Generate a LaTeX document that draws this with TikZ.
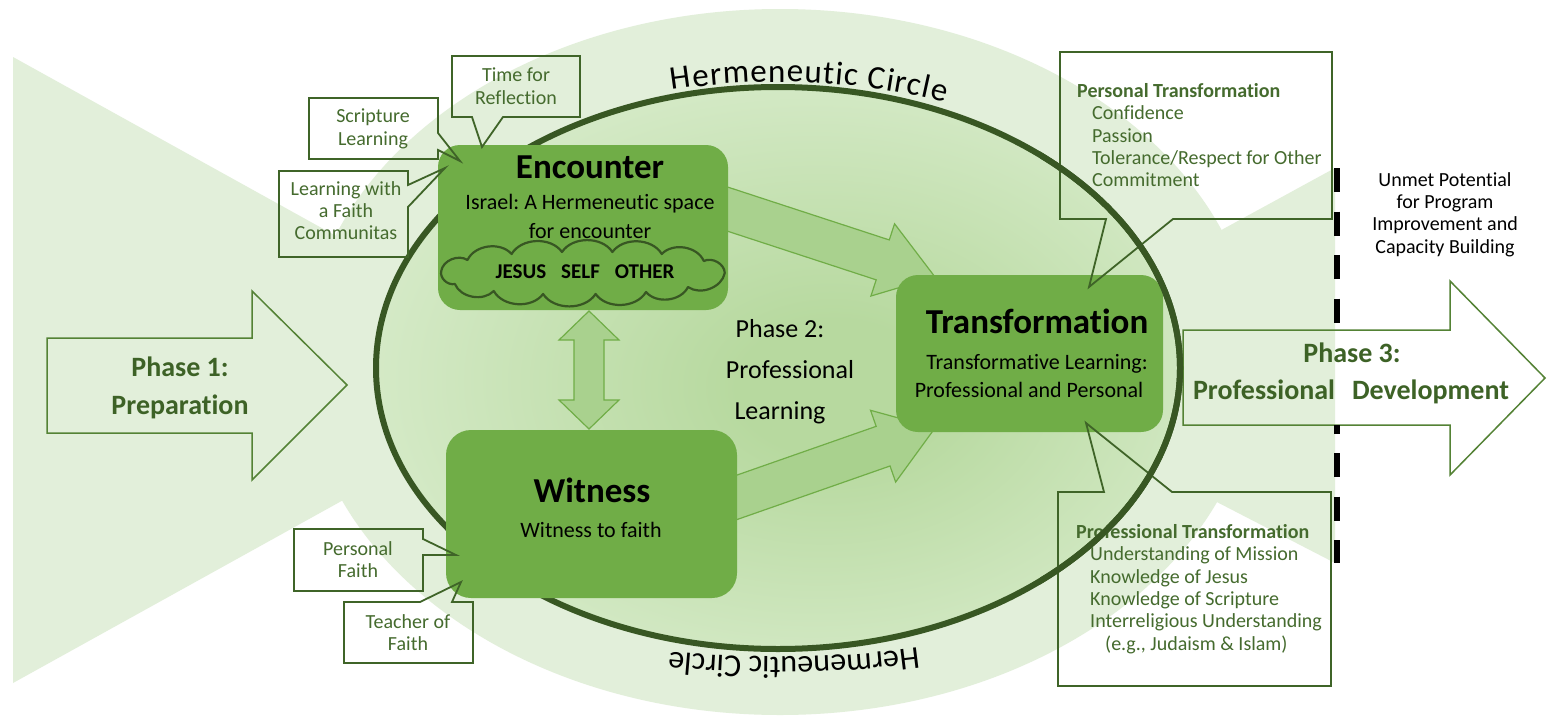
\documentclass[tikz,border=0pt]{standalone}
\usepackage{fontspec}
\setmainfont{Carlito}[Ligatures=NoCommon]
\usetikzlibrary{calc,decorations.text}
\frenchspacing

\definecolor{bglight}{HTML}{E2EFDA}
\definecolor{boxgreen}{HTML}{70AD47}
\definecolor{darkg}{HTML}{385723}
\definecolor{arrowfill}{HTML}{A9D18E}
\definecolor{calloutline}{HTML}{3F6428}
\definecolor{callouttext}{HTML}{456B2E}
\definecolor{phaseline}{HTML}{548235}
\definecolor{phasetext}{HTML}{3D6226}
\definecolor{hin}{HTML}{B7D99F}
\definecolor{hout}{HTML}{ECF7E6}

\pgfdeclareradialshading{hermshade}{\pgfpoint{4bp}{-2bp}}{color(0bp)=(hin); color(6bp)=(hin); color(44bp)=(hout); color(50bp)=(hout)}

\newcommand{\hermfont}{\fontsize{33}{33}\selectfont}
\newcommand{\hermfontb}{\fontsize{32}{32}\selectfont}

% #1 from, #2 to, #3 shaft half width, #4 head half width, #5 head length
\newcommand{\mkblockarrow}[5]{%
  \coordinate (bah) at ($(#2)!#5!(#1)$);
  \filldraw[blockarrow] ($(#1)!#3!90:(#2)$) -- ($(bah)!#3!90:(#2)$) -- ($(bah)!#4!90:(#2)$) -- (#2) -- ($(bah)!#4!-90:(#2)$) -- ($(bah)!#3!-90:(#2)$) -- ($(#1)!#3!-90:(#2)$) -- cycle;}
\newcommand{\mkdoublearrow}[5]{%
  \coordinate (dah) at ($(#2)!#5!(#1)$);
  \coordinate (dat) at ($(#1)!#5!(#2)$);
  \filldraw[blockarrow] ($(dat)!#3!90:(#2)$) -- ($(dah)!#3!90:(#2)$) -- ($(dah)!#4!90:(#2)$) -- (#2) -- ($(dah)!#4!-90:(#2)$) -- ($(dah)!#3!-90:(#2)$) -- ($(dat)!#3!-90:(#2)$) -- ($(dat)!#4!-90:(#2)$) -- (#1) -- ($(dat)!#4!90:(#2)$) -- cycle;}

\begin{document}
\begin{tikzpicture}[x=1pt,y=1pt,
  bigbox/.style={fill=boxgreen, rounded corners=22pt, inner sep=0, draw=none},
  blockarrow/.style={fill=arrowfill, draw=boxgreen, line width=1.2pt, line join=miter},
  callbox/.style={draw=calloutline, line width=1.8pt, line join=miter},
  calltext/.style={text=callouttext, font=\fontsize{20}{22.4}\selectfont, align=center, inner sep=0, anchor=north},
  listtext/.style={text=callouttext, font=\fontsize{20}{22.4}\selectfont, align=left, inner sep=0, anchor=north west},
  phasearrow/.style={draw=phaseline, line width=1.5pt, line join=miter},
  phasetxt/.style={text=phasetext, font=\bfseries\fontsize{28}{37}\selectfont, inner sep=0, anchor=base},
  ptwotxt/.style={text=black, font=\fontsize{26}{41}\selectfont, inner sep=0, anchor=base},
  titletxt/.style={text=black, font=\bfseries\fontsize{35}{40}\selectfont, inner sep=0, anchor=base},
  subtxt/.style={text=black, font=\fontsize{22}{28}\selectfont, inner sep=0, anchor=base},
  cloudtxt/.style={text=black, font=\bfseries\fontsize{21}{24}\selectfont, inner sep=0, anchor=base},
  unmettxt/.style={text=black, font=\fontsize{20}{22.4}\selectfont, align=center, inner sep=0, anchor=north},
  dashline/.style={draw=black, line width=5.5pt, dash pattern=on 24pt off 19.5pt},
  cloudline/.style={draw=darkg, line width=2.2pt, fill=boxgreen, line join=round},
  puff/.style={bend right=58}
]
\useasboundingbox (0,0) rectangle (1550,-715);
\fill[white] (0,0) rectangle (1550,-715);

% background shapes
\fill[bglight] (13,-57) -- (578,-370) -- (13,-683) -- cycle;
\fill[bglight] (963,-371) -- (1335,-168) -- (1335,-563) -- cycle;
\fill[bglight] (780,-362) ellipse [x radius=476, y radius=353];

% inner hermeneutic ellipse fill
\fill[shading=hermshade] (778,-368) ellipse [x radius=402, y radius=281];

% phase arrows
\draw[phasearrow] (47,-338) -- (252,-338) -- (252,-291) -- (347,-385) -- (252,-480) -- (252,-433) -- (47,-433) -- cycle;
\draw[phasearrow] (1183,-330) -- (1450,-330) -- (1450,-281) -- (1545,-378) -- (1450,-475) -- (1450,-425) -- (1183,-425) -- cycle;

% dashed boundary
\draw[dashline] (1337,-168) -- (1337,-325);
\draw[dashline, dash phase=15.5pt] (1337,-425) -- (1337,-563);

% ellipse outline
\draw[darkg, line width=6pt] (778,-368) ellipse [x radius=402, y radius=281];

% Hermeneutic Circle texts
\path[decorate, decoration={text along path, text align={fit to path}, text color=black, text={|\hermfont|Hermeneutic Circle}}]
  (672,-90) arc[start angle=103.6, end angle=68.2, x radius=450, y radius=286];
\path[decorate, decoration={text along path, text align={fit to path}, text color=black, text={|\hermfontb|Hermeneutic Circle}}]
  (918,-647.8) arc[start angle=284.5, end angle=259.2, x radius=560, y radius=289];

% block arrows
\coordinate (ua1) at (715,-205);
\coordinate (ua2) at (935,-277);
\coordinate (la1) at (715,-505);
\coordinate (la2) at (935,-428);
\coordinate (va1) at (589,-311);
\coordinate (va2) at (589,-429);
\mkblockarrow{ua1}{ua2}{21pt}{38pt}{55pt}
\mkblockarrow{la1}{la2}{21pt}{38pt}{55pt}
\mkdoublearrow{va1}{va2}{15pt}{30pt}{29pt}

% main boxes
\node[bigbox, minimum width=290pt, minimum height=165pt] (enc) at (583,-227.5) {};
\node[bigbox, minimum width=291pt, minimum height=168pt, rounded corners=25pt] (wit) at (591.5,-514) {};
\node[bigbox, minimum width=267pt, minimum height=157pt] (trans) at (1029.5,-353.5) {};

% cloud
\coordinate (cld) at (583,-273);
\begin{scope}[shift={(cld)}, xscale=1.05]
\draw[cloudline] (135,0) to[puff] (115,12) to[puff] (75,19) to[puff] (28,21) to[puff] (-20,21)
  to[puff] (-68,19) to[puff] (-110,13) to[puff] (-135,2) to[puff] (-122,-11) to[puff] (-85,-18)
  to[puff] (-38,-21) to[puff] (12,-21) to[puff] (60,-19) to[puff] (100,-14) to[puff] (135,0) -- cycle;
\end{scope}

% box texts
\node[titletxt] (enct) at (590,-178) {Encounter};
\node[subtxt] (encs1) at (590,-209) {Israel: A Hermeneutic space};
\node[subtxt] (encs2) at (590,-238) {for encounter};
\node[cloudtxt] (jso) at (585,-278) {JESUS\hspace{15pt}SELF\hspace{15pt}OTHER};
\node[titletxt] (witt) at (592,-502) {Witness};
\node[subtxt] (wits) at (591,-537) {Witness to faith};
\node[titletxt] (trt) at (1037,-333) {Transformation};
\node[subtxt] (trs1) at (1037,-369) {Transformative Learning:};
\node[subtxt] (trs2) at (1029,-397) {Professional and Personal};

% phase texts
\node[phasetxt] (p1a) at (180,-376) {Phase 1:};
\node[phasetxt] (p1b) at (180,-414) {Preparation};
\node[ptwotxt] (p2a) at (780,-337) {Phase 2:};
\node[ptwotxt] (p2b) at (790,-378) {Professional};
\node[ptwotxt] (p2c) at (780,-419) {Learning};
\node[phasetxt] (p3a) at (1352,-362) {Phase 3:};
\node[phasetxt] (p3b) at (1351,-399) {Professional\hspace{17pt}Development};

% callouts
\draw[callbox] (452,-56) -- (580,-56) -- (580,-117) -- (503,-117) -- (482,-147) -- (472,-117) -- (452,-117) -- cycle;
\draw[callbox] (309,-98) -- (438,-98) -- (438,-133) -- (460,-161) -- (438,-150) -- (438,-159) -- (309,-159) -- cycle;
\draw[callbox] (279,-171) -- (408,-171) -- (408,-185) -- (445,-168) -- (408,-207) -- (408,-257) -- (279,-257) -- cycle;
\draw[callbox] (294,-529) -- (423,-529) -- (423,-539) -- (456,-555) -- (423,-555) -- (423,-591) -- (294,-591) -- cycle;
\draw[callbox] (344,-602) -- (420,-602) -- (461,-582) -- (452,-602) -- (473,-602) -- (473,-663) -- (344,-663) -- cycle;
\draw[callbox] (1060,-52) -- (1332,-52) -- (1332,-219) -- (1173,-219) -- (1089,-287) -- (1106,-219) -- (1060,-219) -- cycle;
\draw[callbox] (1058,-492) -- (1104,-492) -- (1086,-423) -- (1172,-492) -- (1331,-492) -- (1331,-686) -- (1058,-686) -- cycle;

\node[calltext] (tfr) at (516,-68) {Time for\\Reflection};
\node[calltext] (scl) at (373,-109) {Scripture\\Learning};
\node[calltext] (lwf) at (346,-181) {Learning with\\a Faith\\Communitas};
\node[calltext] (pfa) at (358,-541) {Personal\\Faith};
\node[calltext] (tof) at (408,-614) {Teacher of\\Faith};
\node[listtext] (ptl) at (1077,-83) {\textbf{Personal Transformation}\\\hspace*{15pt}Confidence\\\hspace*{15pt}Passion\\\hspace*{15pt}Tolerance/Respect for Other\\\hspace*{15pt}Commitment};
\node[listtext] (prl) at (1076,-524) {\textbf{Professional Transformation}\\\hspace*{14pt}Understanding of Mission\\\hspace*{14pt}Knowledge of Jesus\\\hspace*{14pt}Knowledge of Scripture\\\hspace*{14pt}Interreligious Understanding\\\hspace*{29pt}(e.g., Judaism \& Islam)};

% ellipse line over the right callouts
\begin{scope}
  \clip (1040,0) rectangle (1200,-715);
  \draw[darkg, line width=6pt] (778,-368) ellipse [x radius=402, y radius=281];
\end{scope}

% unmet potential
\node[unmettxt] (unm) at (1445,-172) {Unmet Potential\\for Program\\Improvement and\\Capacity Building};
\end{tikzpicture}
\end{document}
